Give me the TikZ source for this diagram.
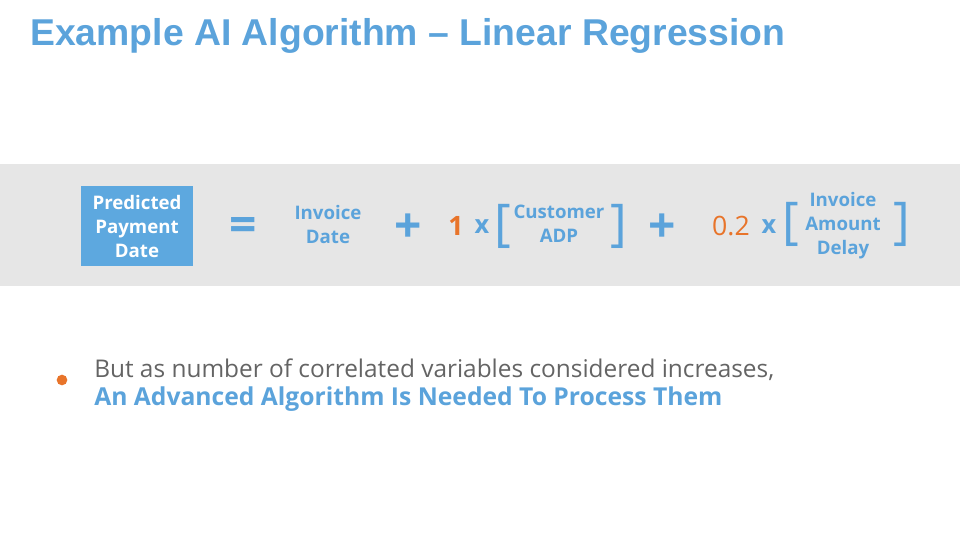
\documentclass[tikz,border=0pt]{standalone}
\usepackage{fontspec}
\setmainfont{Open Sans}
\newfontfamily\titlefont{Liberation Sans}
\usetikzlibrary{positioning}

\definecolor{slideblue}{HTML}{5BA3DB}
\definecolor{boxblue}{HTML}{5DA8DF}
\definecolor{slideorange}{HTML}{E8742A}
\definecolor{bandgray}{HTML}{E6E6E6}
\definecolor{textgray}{HTML}{646464}

\tikzset{
  term/.style={text=slideblue, font=\fontsize{14}{18}\selectfont\bfseries, align=center, inner sep=0pt},
  opsign/.style={text=slideblue, font=\fontsize{36}{36}\selectfont\bfseries, inner sep=0pt},
  bracket/.style={text=slideblue, font=\fontsize{38}{38}\selectfont, inner sep=0pt},
  coef/.style={text=slideorange, inner sep=0pt},
  times/.style={text=slideblue, font=\fontsize{19}{19}\selectfont\bfseries, inner sep=0pt},
}

\begin{document}
\begin{tikzpicture}[x=0.75pt, y=-0.75pt]
\useasboundingbox (0,0) rectangle (960,540);
% Title
\node[anchor=west, inner sep=0pt, text=slideblue, font=\titlefont\bfseries\fontsize{28}{28}\selectfont] (title) at (30,36) {Example AI Algorithm – Linear Regression};

% Equation band
\fill[bandgray] (0,164) rectangle (960,286);
\node[fill=boxblue, text=white, minimum width=84pt, minimum height=60pt, font=\fontsize{14}{18}\selectfont\bfseries, align=center, inner sep=0pt] (predicted) at (137,226) {Predicted\\Payment\\Date};
\node[opsign] (equals) at (243,229) {=};
\node[term] (invdate) at (328,224) {Invoice\\Date};
\node[opsign] (plusA) at (408,228) {+};
\node[coef, font=\fontsize{20}{20}\selectfont\bfseries] (coefA) at (456,226) {1};
\node[times] (timesA) at (482,227) {x};
\node[bracket] (openA) at (503,226) {[};
\node[term] (custadp) at (559,224) {Customer\\ADP};
\node[bracket] (closeA) at (619,226) {]};
\node[opsign] (plusB) at (662,228) {+};
\node[coef, font=\fontsize{20}{20}\selectfont] (coefB) at (731,226) {0.2};
\node[times] (timesB) at (769,227) {x};
\node[bracket] (openB) at (791,224) {[};
\node[term] (amtdelay) at (843,226) {Invoice\\Amount\\Delay};
\node[bracket] (closeB) at (902,224) {]};

% Bullet
\node[circle, fill=slideorange, minimum size=8pt, inner sep=0pt] (dot) at (62,380) {};
\node[anchor=base west, text=textgray, font=\fontsize{18.3}{22}\selectfont, inner sep=0pt] (noteA) at (94,377) {But as number of correlated variables considered increases,};
\node[anchor=base west, text=slideblue, font=\fontsize{18.5}{22}\selectfont\bfseries, inner sep=0pt] (noteB) at (94,405) {An Advanced Algorithm Is Needed To Process Them};
\end{tikzpicture}
\end{document}
